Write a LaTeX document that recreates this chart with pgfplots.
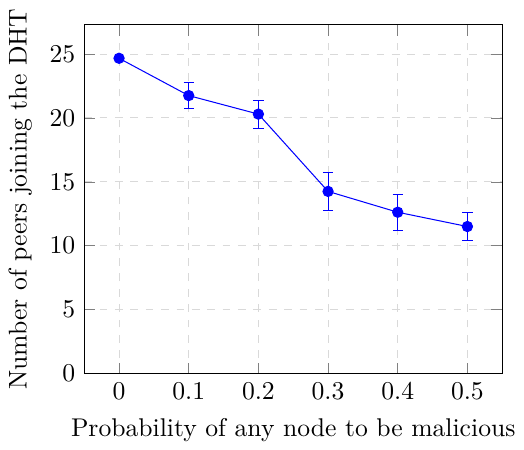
\documentclass[border=0pt]{standalone}
\usepackage{pgfplots}
\pgfplotsset{compat=1.18}
\begin{document}
\begin{tikzpicture}
\begin{axis}[
  scale only axis,
  width=163pt, height=136pt,
  xmin=-0.05, xmax=0.55,
  ymin=0, ymax=27.3,
  xtick={0,0.1,0.2,0.3,0.4,0.5},
  xticklabels={0,0.1,0.2,0.3,0.4,0.5},
  ytick={0,5,10,15,20,25},
  grid=major,
  major grid style={dashed, gray!30},
  xlabel={Probability of any node to be malicious},
  ylabel={Number of peers joining the DHT},
]
\addplot[blue, mark=*, error bars/.cd, y dir=both, y explicit,
  error bar style={blue}]
coordinates {
(0,24.67) +- (0,0.05)
(0.1,21.75) +- (0,1.04)
(0.2,20.3) +- (0,1.1)
(0.3,14.25) +- (0,1.49)
(0.4,12.62) +- (0,1.42)
(0.5,11.5) +- (0,1.13)
};
\end{axis}
\end{tikzpicture}
\end{document}
